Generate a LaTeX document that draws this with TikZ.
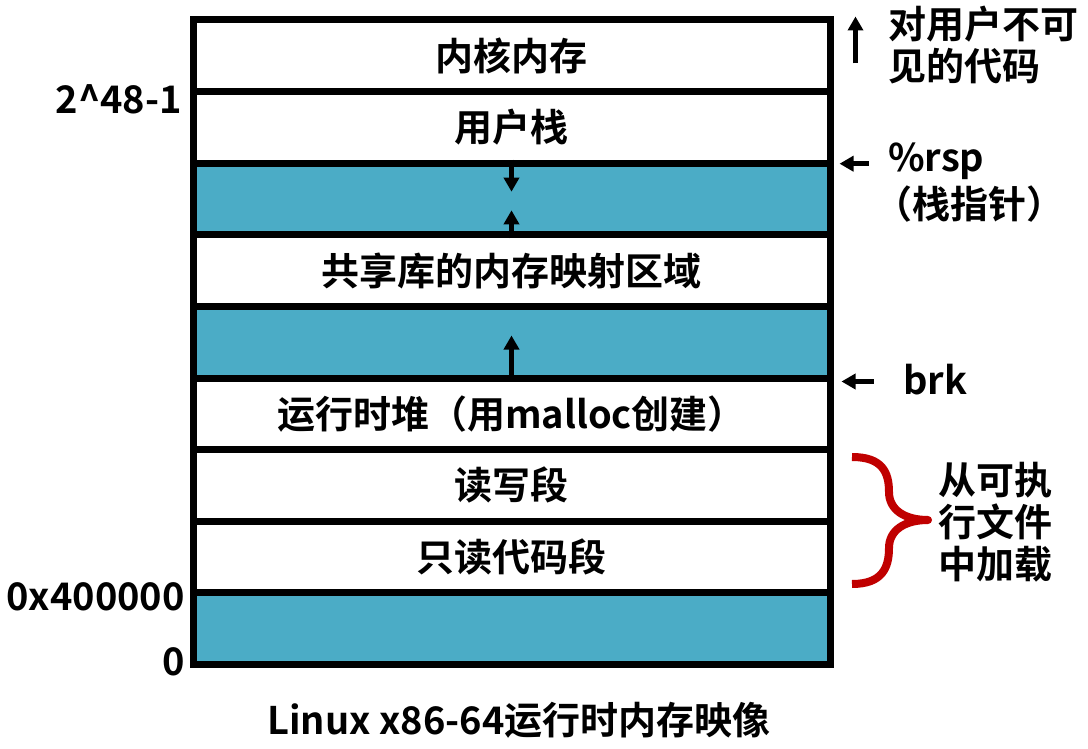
\documentclass[tikz,border=0pt]{standalone}
\usepackage{fontspec}
\setmainfont{Noto Sans CJK SC}[BoldFont={Noto Sans CJK SC Bold}]
\usepackage{tikz}
\usetikzlibrary{arrows.meta,positioning}
\definecolor{mmblue}{RGB}{75,172,198}
\definecolor{mmred}{RGB}{192,0,0}
\tikzset{
  mmseg/.style={draw=black, line width=7pt, minimum width=637pt, minimum height=71.6pt, inner sep=0pt, fill=white},
  mmgap/.style={mmseg, fill=mmblue},
  mmlabel/.style={inner sep=0pt, align=left},
  mmarr/.style={-{Triangle[width=15pt,length=14pt]}, line width=5pt, draw=black}
}

\begin{document}
\begin{tikzpicture}[x=1pt, y=-1pt, font=\fontsize{38}{42}\selectfont\bfseries]
  \useasboundingbox (0,0) rectangle (1088,749);
  \node[mmseg] (kernel) at (511.5,55.8) {内核内存};
  \node[mmseg] (ustack) at (511.5,127.4) {用户栈};
  \node[mmgap] (gapa) at (511.5,199.0) {};
  \node[mmseg] (shlib) at (511.5,270.6) {共享库的内存映射区域};
  \node[mmgap] (gapb) at (511.5,342.2) {};
  \node[mmseg] (heap) at (511.5,413.8) {运行时堆（用malloc创建）};
  \node[mmseg] (rwseg) at (511.5,485.4) {读写段};
  \node[mmseg] (roseg) at (511.5,557.0) {只读代码段};
  \node[mmgap] (bottom) at (511.5,628.6) {};
  % addresses on the left
  \node[mmlabel, anchor=east] (top) at (182,99) {2\textasciicircum48-1};
  \node[mmlabel, anchor=east] (text) at (185,597) {0x400000};
  \node[mmlabel, anchor=east] (zero) at (185,662) {0};
  % stack and heap growth
  \draw[mmarr] (gapa.north) -- ++(0,32);
  \draw[mmarr] (gapa.south) -- ++(0,-28);
  \draw[mmarr] (gapb.south) -- ++(0,-46);
  % notes on the right
  \node[mmlabel, anchor=north west] (hidden) at (888,6) {对用户不可\\见的代码};
  \draw[mmarr] ([xshift=22pt,yshift=-47pt]kernel.north east) -- ([xshift=22pt]kernel.north east);
  \node[mmlabel, anchor=north west] (rsp) at (888,143) {\%rsp\\[5pt]\hspace*{-14pt}（栈指针）};
  \draw[mmarr] ([xshift=35pt,yshift=3pt]ustack.south east) -- ([xshift=6pt,yshift=3pt]ustack.south east);
  \node[mmlabel, anchor=west] (brk) at (903,380) {brk};
  \draw[mmarr] ([xshift=40pt]gapb.south east) -- ([xshift=8pt]gapb.south east);
  \node[mmlabel, anchor=west] (loaded) at (938,522) {从可执\\行文件\\中加载};
  \draw[mmred, line width=8pt, line join=round]
    (852,457) .. controls (882,457) and (889,472) .. (889,492)
    .. controls (889,510) and (905,520) .. (928,520)
    .. controls (905,520) and (889,530) .. (889,548)
    .. controls (889,568) and (882,584) .. (852,584);
  % caption
  \node[mmlabel] (caption) at (519,720) {Linux x86-64运行时内存映像};
\end{tikzpicture}
\end{document}
